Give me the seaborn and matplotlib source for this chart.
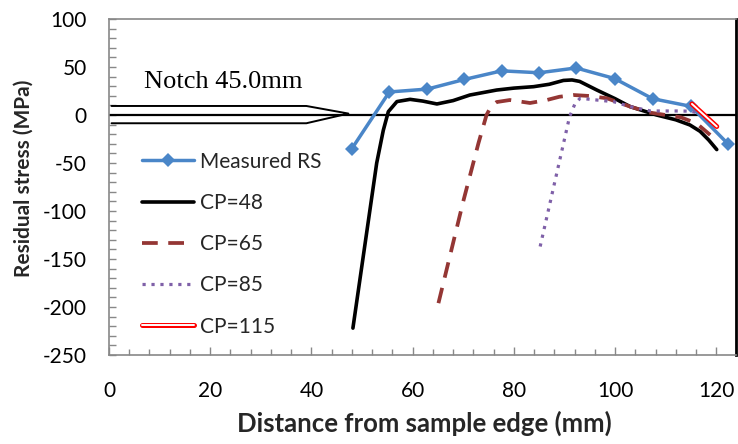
import numpy as np
import pandas as pd
import matplotlib
matplotlib.use('Agg')
import matplotlib.pyplot as plt
import matplotlib.patheffects as pe
from matplotlib.ticker import MultipleLocator
import seaborn as sns

# data
rs_x = [48.0, 55.4, 62.9, 70.2, 77.6, 85.0, 92.3, 99.9, 107.4, 115.0, 122.3]
rs_y = [-35, 24, 27, 37, 46, 44, 49, 38, 17, 9, -30]

cp48_x = [48.2, 52.9, 54.2, 55.2, 56.9, 59.5, 62.0, 64.8, 68.0, 71.3, 76.6, 80.0, 83.9,
          87.0, 89.8, 91.5, 93.0, 96.4, 100.0, 103.0, 108.2, 112.0, 114.8, 116.8, 118.5, 120.1]
cp48_y = [-222, -50, -16, 3.5, 14, 16.3, 14.5, 11.5, 15, 20.8, 26, 28, 29.5,
          32, 36, 36.5, 35, 26, 17, 8.7, 0, -5, -10.4, -17, -26, -36]

cp65_x = [65.1, 70.0, 73.0, 74.6, 75.5, 76.6, 79.2, 83.2, 86.5, 89.0, 91.8, 95.0, 98.4, 103.0,
          107.0, 113.0, 116.1, 118.8]
cp65_y = [-196, -90, -29.5, 0, 9, 13.5, 15.6, 12.5, 15.6, 19, 20.8, 19.8, 17.4, 8.7,
          2.4, -2.4, -8.7, -20.8]

cp85_x = [85.2, 91.0, 92.1, 93.1, 96.4, 99.7, 103.0, 107.0, 112.2, 114.9, 116.5]
cp85_y = [-137, -2, 12, 17.4, 15.6, 13.9, 8.7, 4.2, 4.2, 4.0, 2.0]

cp115_x = [115.2, 120.1]
cp115_y = [11.5, -12]

series = [
    ('Measured RS', rs_x, rs_y),
    ('CP=48', cp48_x, cp48_y),
    ('CP=65', cp65_x, cp65_y),
    ('CP=85', cp85_x, cp85_y),
    ('CP=115', cp115_x, cp115_y),
]

sns.set_theme(style='white')
plt.rcParams['font.family'] = ['Lato', 'DejaVu Sans']
plt.rcParams['axes.unicode_minus'] = False

fig = plt.figure(figsize=(7.38, 4.44), dpi=100)
ax = fig.add_axes([109 / 738, 89 / 444, 627 / 738, 336 / 444])

styles = {
    'Measured RS': dict(color='#4A86C8', lw=2.5, marker='D', markersize=7.5, markeredgewidth=0),
    'CP=48': dict(color='black', lw=2.6),
    'CP=65': dict(color='#943634', lw=2.7, dashes=(4.2, 2.8)),
    'CP=85': dict(color='#7F60A8', lw=2.3, dashes=(1, 1.8)),
    'CP=115': dict(color='white', lw=1.4,
                   path_effects=[pe.Stroke(linewidth=3.6, foreground='#FF0000'), pe.Normal()]),
}

for name, xs, ys in series:
    d = pd.DataFrame({'x': xs, 'y': ys})
    sns.lineplot(data=d, x='x', y='y', ax=ax, sort=False, estimator=None, label=name,
                 **styles[name])

# zero line and notch outline
ax.axhline(0, color='black', lw=1.6, zorder=1)
notch_x = [0.5, 39.0, 47.3, 39.0, 0.5]
notch_y = [9.4, 9.4, 1.5, -8.6, -8.6]
ax.plot(notch_x, notch_y, color='black', lw=1.4, zorder=1)
ax.text(7.0, 34.5, 'Notch 45.0mm', family='Liberation Serif', fontsize=19,
        va='center', ha='left', color='black')

ax.set_xlim(0, 123.9)
ax.set_ylim(-250, 100)
ax.xaxis.set_major_locator(MultipleLocator(20))
ax.xaxis.set_minor_locator(MultipleLocator(4))
ax.yaxis.set_major_locator(MultipleLocator(50))
ax.yaxis.set_minor_locator(MultipleLocator(10))
ax.tick_params(axis='both', which='both', direction='in', colors='#888888',
               labelcolor='black', labelsize=15, bottom=True, left=True)
ax.tick_params(axis='x', which='major', length=6, width=1, pad=19)
ax.tick_params(axis='x', which='minor', length=4, width=1)
ax.tick_params(axis='y', which='both', length=5, width=1, pad=16)

for s in ['top', 'left', 'bottom']:
    ax.spines[s].set_color('#888888')
    ax.spines[s].set_linewidth(1.2)
ax.spines['right'].set_color('black')
ax.spines['right'].set_linewidth(2.0)

ax.set_xlabel('Distance from sample edge (mm)', fontsize=18.5, fontweight='bold')
ax.set_ylabel('Residual stress (MPa)', fontsize=15, fontweight='bold')
ax.xaxis.set_label_coords((424 - 109) / 627, -(423 - 355) / 336)
ax.yaxis.set_label_coords(-(109 - 24) / 627, (355 - 178) / 336)
for lab in [ax.xaxis.label, ax.yaxis.label]:
    lab.set_va('center')

leg = ax.legend(loc='upper left', bbox_to_anchor=(0.0526, 0.605), frameon=False,
                fontsize=15, handlelength=2.5, handletextpad=0.3, labelspacing=1.02,
                borderpad=0, borderaxespad=0)

fig.savefig('out.png', dpi=100, facecolor='white')
